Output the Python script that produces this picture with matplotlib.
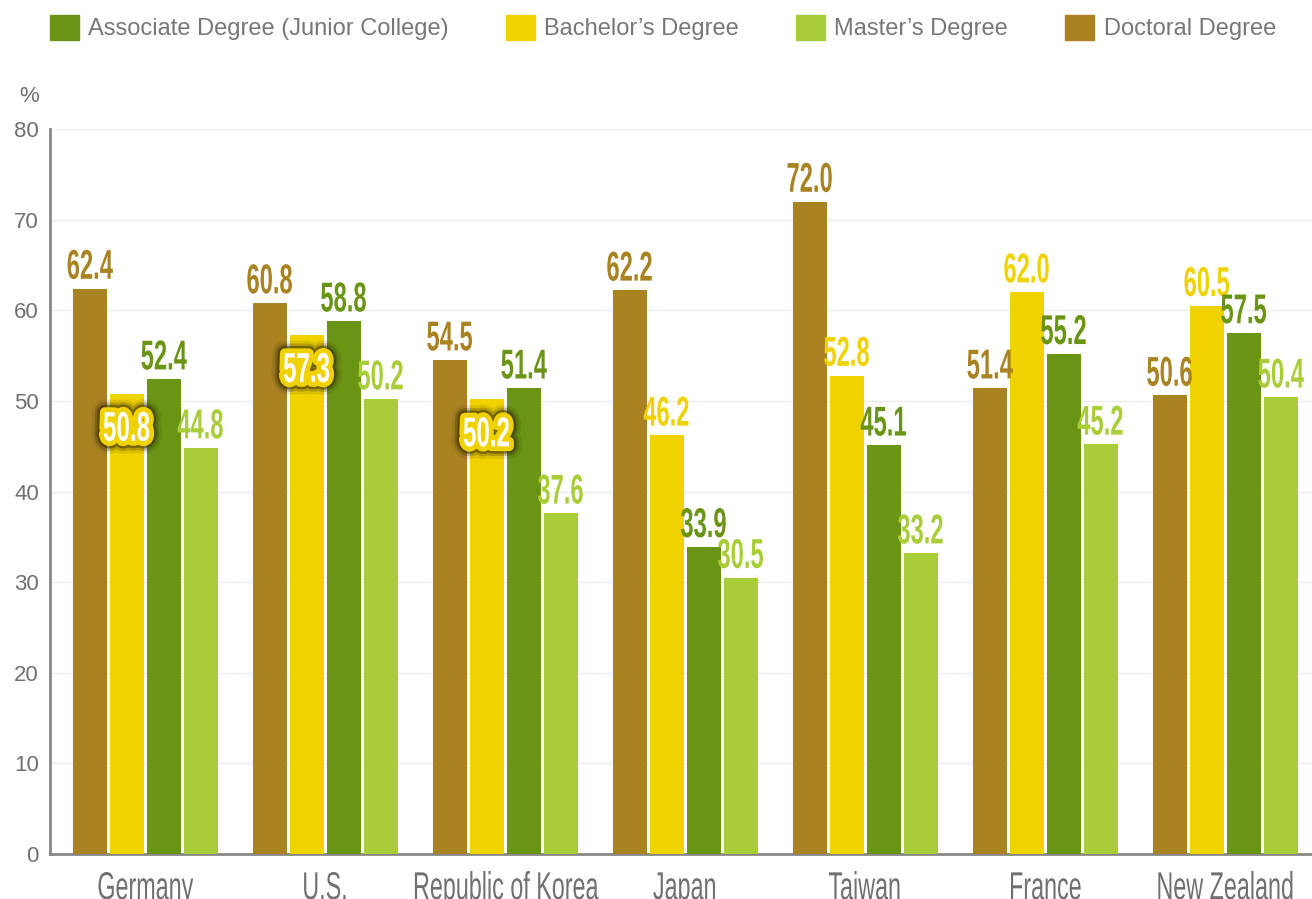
import numpy as np
import matplotlib
matplotlib.use("Agg")
import matplotlib.pyplot as plt
import matplotlib.patheffects as pe
from matplotlib.patches import Patch
from matplotlib.text import Text
from matplotlib.transforms import Affine2D, Bbox, ScaledTranslation

plt.rcParams['font.family'] = ['Liberation Sans', 'DejaVu Sans']

countries = ["Germany", "U.S.", "Republic of Korea", "Japan", "Taiwan", "France", "New Zealand"]
doctoral = [62.4, 60.8, 54.5, 62.2, 72.0, 51.4, 50.6]
bachelor = [50.8, 57.3, 50.2, 46.2, 52.8, 62.0, 60.5]
associate = [52.4, 58.8, 51.4, 33.9, 45.1, 55.2, 57.5]
master = [44.8, 50.2, 37.6, 30.5, 33.2, 45.2, 50.4]
# bachelor labels drawn inside the bar with an outlined badge
boxed_bachelor = [0, 1, 2]

yticks = [0, 10, 20, 30, 40, 50, 60, 70, 80]

c_doc = "#a98222"
c_bach = "#f0d200"
c_assoc = "#6a9413"
c_mast = "#a9cd38"
grey = "#707070"


class Squeeze(pe.AbstractPathEffect):
    """Narrows glyph outlines around their centre, for a condensed look."""

    def __init__(self, sx, effects=None):
        super().__init__()
        self.sx = sx
        self.effects = effects if effects is not None else [pe.Normal()]

    def draw_path(self, renderer, gc, tpath, affine, rgbFace=None):
        ext = tpath.get_extents()
        cx = (ext.x0 + ext.x1) / 2
        squeeze = Affine2D().translate(-cx, 0).scale(self.sx, 1).translate(cx, 0)
        for e in self.effects:
            e.draw_path(renderer, gc, tpath, squeeze + affine, rgbFace)


class NarrowText(Text):
    """Centred text drawn condensed; its extent shrinks to match."""

    def __init__(self, *args, sx=0.6, effects=None, **kw):
        super().__init__(*args, **kw)
        self.sx = sx
        self.set_path_effects([Squeeze(sx, effects)])

    def get_window_extent(self, renderer=None, dpi=None):
        bb = super().get_window_extent(renderer, dpi)
        cx = (bb.x0 + bb.x1) / 2
        hw = bb.width * self.sx / 2
        return Bbox([[cx - hw, bb.y0], [cx + hw, bb.y1]])


def narrow(ax, x, y, s, dy, trans, **kw):
    off = trans + ScaledTranslation(0, dy / 72, ax.figure.dpi_scale_trans)
    t = NarrowText(x, y, s, transform=off, ha='center', va='baseline', **kw)
    t.set_clip_on(False)
    ax.add_artist(t)
    return t


fig = plt.figure(figsize=(13.12, 8.99), dpi=100)
ax = fig.add_axes([50 / 1312, 45 / 899, 1 - 50 / 1312, (854 - 129) / 899])

x = np.arange(len(countries))
w = 0.189
step = 0.2056
series = [(doctoral, c_doc), (bachelor, c_bach), (associate, c_assoc), (master, c_mast)]
offsets = [-1.5 * step, -0.5 * step, 0.5 * step, 1.5 * step]

badge_fx = [
    pe.Stroke(linewidth=18, foreground="#2a2000", alpha=0.10),
    pe.Stroke(linewidth=14, foreground="#2a2000", alpha=0.22),
    pe.Stroke(linewidth=10.5, foreground="#3a2e00", alpha=0.5),
    pe.Stroke(linewidth=7, foreground=c_bach),
    pe.Normal(),
]

for (vals, col), off in zip(series, offsets):
    bars = ax.bar(x + off, vals, width=w, color=col, zorder=3)
    for i, (b, v) in enumerate(zip(bars, vals)):
        bx = b.get_x() + b.get_width() / 2
        if vals is bachelor and i in boxed_bachelor:
            narrow(ax, bx, v, f"{v:.1f}", -34, ax.transData, sx=0.58, effects=badge_fx,
                   fontsize=30, fontweight='bold', color='white', zorder=5)
        else:
            narrow(ax, bx, v, f"{v:.1f}", 7, ax.transData, sx=0.57,
                   fontsize=30, fontweight='bold', color=col, zorder=4)

# country names under each group
for xi, name in zip(x, countries):
    narrow(ax, xi, 0, name, -32.5, ax.get_xaxis_transform(), sx=0.6,
           fontsize=28, color=grey)

ax.set_xlim(-0.528, 6.483)
ax.set_ylim(0, 80)
ax.set_xticks([])
ax.set_yticks(yticks)
ax.set_yticklabels([str(t) for t in yticks], fontsize=16, color=grey)
ax.tick_params(axis='y', length=0, pad=8)
ax.grid(axis='y', color="#ececec", linewidth=1, zorder=0)
ax.set_axisbelow(True)
for s in ['top', 'right']:
    ax.spines[s].set_visible(False)
for s in ['left', 'bottom']:
    ax.spines[s].set_color("#888888")
    ax.spines[s].set_linewidth(2)

fig.text(29 / 1312, 1 - 96 / 899, "%", fontsize=16, color=grey, ha='center', va='center')

handles = [Patch(color=c_assoc), Patch(color=c_bach), Patch(color=c_mast), Patch(color=c_doc)]
labels = ["Associate Degree (Junior College)", "Bachelor\u2019s Degree",
          "Master\u2019s Degree", "Doctoral Degree"]
fig.legend(handles, labels, loc='upper left', bbox_to_anchor=(50 / 1312, 1 - 15 / 899),
           ncol=4, frameon=False, fontsize=17, labelcolor="#777777",
           handlelength=1.22, handleheight=1.22, handletextpad=0.4,
           columnspacing=2.42, borderaxespad=0, borderpad=0)

fig.savefig("out.png", dpi=100)
